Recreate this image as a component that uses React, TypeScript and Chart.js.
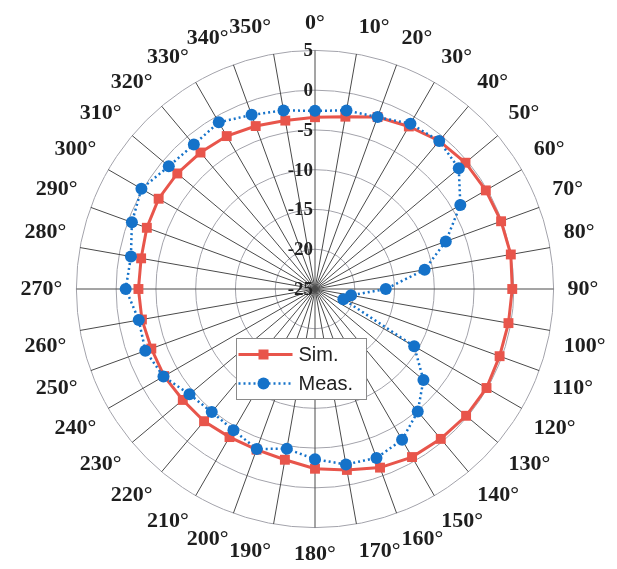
import React, { useEffect, useRef } from "react";
import { Chart, registerables } from "chart.js";

Chart.register(...registerables);

const angleLabels = [
  "0°", "10°", "20°", "30°", "40°", "50°", "60°", "70°", "80°", "90°",
  "100°", "110°", "120°", "130°", "140°", "150°", "160°", "170°", "180°", "190°",
  "200°", "210°", "220°", "230°", "240°", "250°", "260°", "270°", "280°", "290°",
  "300°", "310°", "320°", "330°", "340°", "350°",
];

const radialTicks = [-25, -20, -15, -10, -5, 0, 5];

const simValues = [
  -3.4, -3.0, -2.0, -1.4, -0.7, -0.3, -0.2, -0.1, 0.0, -0.2,
  -0.3, -0.3, -0.1, -0.2, -0.4, -0.6, -1.1, -1.9, -2.4, -3.2,
  -3.5, -3.5, -3.3, -3.3, -3.1, -3.1, -2.9, -2.8, -2.8, -2.5,
  -2.3, -2.4, -2.6, -2.8, -3.2, -3.5,
];

const measValues = [
  -2.6, -2.2, -2.0, -1.0, -0.7, -1.4, -3.9, -7.5, -11.0, -16.1,
  -20.4, -21.2, -10.6, -7.2, -4.9, -3.1, -2.4, -2.6, -3.6, -4.6,
  -3.6, -4.5, -4.8, -4.4, -3.0, -2.3, -2.5, -1.2, -1.5, -0.5,
  0.2, -1.0, -1.3, -0.8, -1.7, -2.2,
];

const seriesNames = ["Sim.", "Meas."];

const SIM_COLOR = "#e8554b";
const MEAS_COLOR = "#1572c9";

const tickLabelPlugin = {
  id: "tickLabelPlugin",
  beforeDatasetsDraw(chart: any) {
    const r = chart.scales.r;
    const ctx = chart.ctx;
    ctx.save();
    ctx.font = 'bold 19px "Liberation Serif"';
    ctx.textAlign = "right";
    ctx.textBaseline = "middle";
    ctx.fillStyle = "#222";
    radialTicks.forEach((v) => {
      const d = r.getDistanceFromCenterForValue(v);
      ctx.fillText(String(v), r.xCenter - 2, r.yCenter - d + 1);
    });
    ctx.restore();
  },
};

const legendPlugin = {
  id: "boxLegend",
  afterDraw(chart: any) {
    const r = chart.scales.r;
    const ctx = chart.ctx;
    const x0 = Math.round(r.xCenter - 79) + 0.5;
    const y0 = Math.round(r.yCenter + 49) + 0.5;
    const w = 130;
    const h = 61;
    ctx.save();
    ctx.fillStyle = "#ffffff";
    ctx.fillRect(x0, y0, w, h);
    ctx.strokeStyle = "#8a8a8a";
    ctx.lineWidth = 1;
    ctx.strokeRect(x0, y0, w, h);

    const rows = [y0 + 16, y0 + 45];
    ctx.strokeStyle = SIM_COLOR;
    ctx.lineWidth = 3;
    ctx.beginPath();
    ctx.moveTo(x0 + 2, rows[0]);
    ctx.lineTo(x0 + 56, rows[0]);
    ctx.stroke();
    ctx.fillStyle = SIM_COLOR;
    ctx.fillRect(x0 + 22, rows[0] - 5, 10, 10);

    ctx.strokeStyle = MEAS_COLOR;
    ctx.lineWidth = 2.5;
    ctx.setLineDash([2, 3]);
    ctx.beginPath();
    ctx.moveTo(x0 + 2, rows[1]);
    ctx.lineTo(x0 + 56, rows[1]);
    ctx.stroke();
    ctx.setLineDash([]);
    ctx.fillStyle = MEAS_COLOR;
    ctx.beginPath();
    ctx.arc(x0 + 27, rows[1], 6, 0, Math.PI * 2);
    ctx.fill();

    ctx.fillStyle = "#222";
    ctx.font = '20px "Liberation Sans"';
    ctx.textAlign = "left";
    ctx.textBaseline = "middle";
    ctx.fillText(seriesNames[0], x0 + 62, rows[0] + 1);
    ctx.fillText(seriesNames[1], x0 + 62, rows[1] + 1);
    ctx.restore();
  },
};

export default function App() {
  const canvasRef = useRef<HTMLCanvasElement | null>(null);

  useEffect(() => {
    if (!canvasRef.current) return;
    const chart = new Chart(canvasRef.current, {
      type: "radar",
      data: {
        labels: angleLabels,
        datasets: [
          {
            label: seriesNames[0],
            data: simValues,
            borderColor: SIM_COLOR,
            backgroundColor: SIM_COLOR,
            borderWidth: 3,
            pointStyle: "rect",
            pointRadius: 7,
            pointBorderWidth: 0,
            pointBackgroundColor: SIM_COLOR,
            fill: false,
            tension: 0,
            order: 1,
          },
          {
            label: seriesNames[1],
            data: measValues,
            borderColor: MEAS_COLOR,
            backgroundColor: MEAS_COLOR,
            borderWidth: 2.5,
            borderDash: [2, 3],
            pointStyle: "circle",
            pointRadius: 6,
            pointBorderWidth: 0,
            pointBackgroundColor: MEAS_COLOR,
            fill: false,
            tension: 0,
            order: 0,
          },
        ],
      },
      options: {
        animation: false,
        responsive: true,
        maintainAspectRatio: false,
        layout: { padding: { left: 9, right: 0, top: 10, bottom: 0 } },
        plugins: {
          legend: { display: false },
          tooltip: { enabled: false },
        },
        scales: {
          r: {
            min: -25,
            max: 5,
            beginAtZero: false,
            ticks: { display: false, stepSize: 5 },
            grid: { color: "#a3a3ab", lineWidth: 1, circular: true },
            angleLines: { color: "#4a4a4a", lineWidth: 1 },
            pointLabels: {
              color: "#1e1e1e",
              padding: 14,
              font: { family: "Liberation Serif", size: 22, weight: "bold" },
            },
          },
        },
      },
      plugins: [tickLabelPlugin, legendPlugin],
    });
    return () => chart.destroy();
  }, []);

  return (
    <div style={{ position: "absolute", left: 0, top: 0, width: 617, height: 569 }}>
      <canvas ref={canvasRef} />
    </div>
  );
}
